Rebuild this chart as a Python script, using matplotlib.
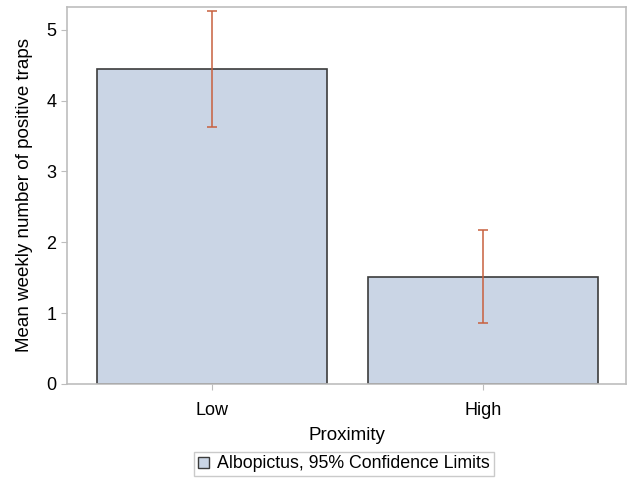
import numpy as np
import matplotlib
matplotlib.use('Agg')
import matplotlib.pyplot as plt
from matplotlib.patches import Patch

plt.rcParams['font.family'] = ['Liberation Sans', 'DejaVu Sans']

# data
categories = ['Low', 'High']
means = [4.45, 1.515]
lower = [3.63, 0.86]
upper = [5.26, 2.175]

x = np.arange(len(categories))
yerr = [np.array(means) - np.array(lower), np.array(upper) - np.array(means)]

fig = plt.figure(figsize=(6.27, 4.78), dpi=100)
ax = fig.add_axes([67/627, 1 - 384/478, (626-67)/627, (384-7)/478])

ax.bar(x, means, width=0.85, color='#cad5e5', edgecolor='#3c3c3c', linewidth=1.2, zorder=2)
ax.errorbar(x, means, yerr=yerr, fmt='none', ecolor='#c8603f', elinewidth=1.1,
            capsize=3.6, capthick=1.1, zorder=3)

ax.set_xlim(-0.535, 1.528)
ax.set_ylim(0, 5.32)
ax.set_xticks(x)
ax.set_xticklabels(categories)
ax.set_yticks([0, 1, 2, 3, 4, 5])

for s in ax.spines.values():
    s.set_color('#bdbdbd')
    s.set_linewidth(1.2)
ax.tick_params(colors='#bdbdbd', labelcolor='black', labelsize=13, length=4)
ax.tick_params(axis='x', pad=9)

ax.set_xlabel('Proximity', fontsize=13.5, labelpad=6)
ax.set_ylabel('Mean weekly number of positive traps', fontsize=13.5, labelpad=10)

handle = Patch(facecolor='#cad5e5', edgecolor='#3c3c3c', linewidth=1)
leg = fig.legend([handle], ['Albopictus, 95% Confidence Limits'], loc='center',
                 bbox_to_anchor=(344/627, 1 - 464/478), fontsize=12.8, frameon=True,
                 fancybox=False, handlelength=0.6, handleheight=0.6, handletextpad=0.5,
                 borderpad=0.2, borderaxespad=0)
leg.get_frame().set_edgecolor('#bdbdbd')
leg.get_frame().set_linewidth(1)

fig.savefig('out.png', dpi=100)
